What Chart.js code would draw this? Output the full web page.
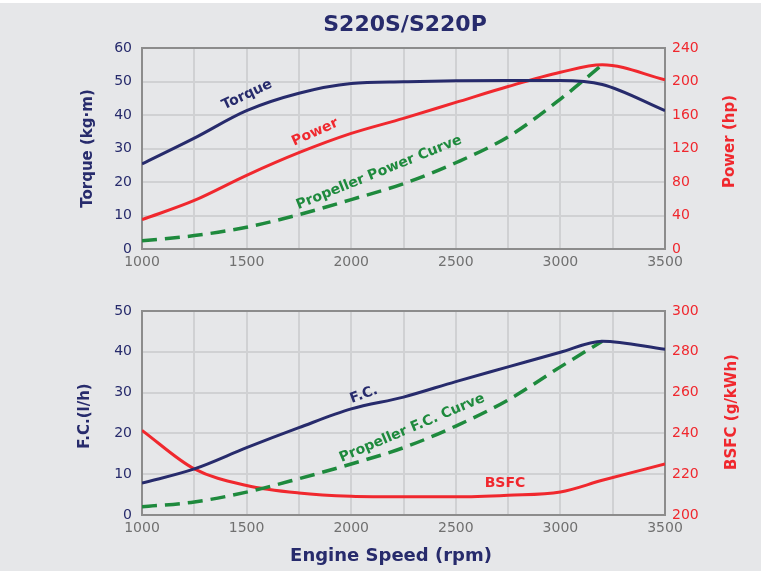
<!DOCTYPE html>
<html>
<head>
<meta charset="utf-8">
<script src="https://cdn.jsdelivr.net/npm/chart.js@4.4.1/dist/chart.umd.min.js"></script>
<style>
    html, body { margin: 0; padding: 0; background: #e6e7e9; }
    #wrap { position: relative; width: 761px; height: 571px; background: #e6e7e9; border-top: 3px solid #fff; box-sizing: border-box; }
    canvas { position: absolute; left: 0; }
    #top { top: -3px; }
    #bottom { top: 277px; }
</style>
</head>
<body>
<div id="wrap">
    <canvas id="top" width="761" height="280"></canvas>
    <canvas id="bottom" width="761" height="291"></canvas>
</div>
<script>
// engine speed (rpm)
const rpm = [1000, 1250, 1500, 1750, 2000, 2250, 2500, 2750, 3000, 3200, 3500];
const propRpm = [1000, 1250, 1500, 1750, 2000, 2250, 2500, 2750, 3000, 3200];

// top panel
const torque = [25.4, 33.1, 41.3, 46.5, 49.4, 49.9, 50.2, 50.3, 50.3, 49.1, 41.3];   // kg·m
const power = [35, 58, 88, 115, 138, 156, 175, 194, 211, 220, 202];                  // hp
const propPower = [9.7, 16, 26, 41, 59, 78, 103, 134, 179, 220];                     // hp

// bottom panel
const fuel = [7.8, 11.3, 16.5, 21.4, 26.0, 28.9, 32.7, 36.3, 39.9, 42.6, 40.6];      // l/h
const propFuel = [2.0, 3.2, 5.6, 8.9, 12.5, 16.5, 21.8, 28.2, 36.3, 42.6];          // l/h
const bsfc = [241.5, 222.6, 214.5, 210.8, 209.2, 208.9, 208.9, 209.7, 211.3, 217, 225]; // g/kWh

const xTicks = [1000, 1500, 2000, 2500, 3000, 3500];

const NAVY = '#272b6c';
const RED = '#f0282e';
const GREEN = '#1e8a3d';
const GRID = '#d0d1d3';
const TICK_FONT = { family: 'DejaVu Sans', size: 14 };

const pts = (xs, ys) => xs.map((x, i) => ({ x: x, y: ys[i] }));

// frame, axis titles and curve labels
const annotate = {
    id: 'annotate',
    beforeDatasetsDraw(chart) {
        const { ctx, chartArea: a } = chart;
        ctx.save();
        ctx.strokeStyle = '#8c8c8c';
        ctx.lineWidth = 2;
        ctx.strokeRect(a.left, a.top, a.width, a.height);
        ctx.restore();
    },
    afterDraw(chart, args, opts) {
        const { ctx, chartArea: a, scales } = chart;
        ctx.save();
        ctx.textAlign = 'center';
        ctx.textBaseline = 'middle';
        (opts.texts || []).forEach(t => {
            let x, y;
            if (t.rpm !== undefined) {
                x = scales.x.getPixelForValue(t.rpm);
                y = scales[t.axis || 'y'].getPixelForValue(t.v);
            } else {
                x = t.side === 'left' ? a.left + t.dx : t.side === 'right' ? a.right + t.dx : t.x;
                y = t.y !== undefined ? t.y : (a.top + a.bottom) / 2 + (t.dy || 0);
            }
            ctx.font = t.font;
            ctx.fillStyle = t.color;
            ctx.translate(x, y);
            ctx.rotate((t.angle || 0) * Math.PI / 180);
            ctx.fillText(t.text, 0, 0);
            ctx.setTransform(1, 0, 0, 1, 0, 0);
        });
        ctx.restore();
    }
};

function lineSet(data, color, axis, dashed) {
    return {
        data: data, borderColor: color, borderWidth: dashed ? 3.5 : 3,
        borderDash: dashed ? [15, 8] : [], yAxisID: axis,
        pointRadius: 0, cubicInterpolationMode: 'monotone', fill: false
    };
}

function xScale(height, pad) {
    return {
        type: 'linear', min: 1000, max: 3500,
        afterFit: s => { s.height = height; },
        grid: { color: GRID, lineWidth: 2, drawTicks: false },
        border: { display: false },
        ticks: {
            stepSize: 250, padding: pad, color: '#707070', font: TICK_FONT, maxRotation: 0,
            callback: v => xTicks.includes(v) ? String(v) : ''
        }
    };
}

function yScale(min, max, step, color, side) {
    return {
        type: 'linear', position: side, min: min, max: max,
        afterFit: s => { s.width = side === 'left' ? 142 : 96; },
        grid: { display: side === 'left', color: GRID, lineWidth: 2, drawTicks: false },
        border: { display: false },
        ticks: { stepSize: step, color: color, font: TICK_FONT, padding: side === 'left' ? 10 : 7 }
    };
}

function baseOptions(top, xHeight, xPad, scales, texts) {
    return {
        responsive: false, animation: false, devicePixelRatio: 1,
        layout: { padding: { top: top, left: 0, right: 0, bottom: 0 } },
        plugins: { legend: { display: false }, tooltip: { enabled: false }, annotate: { texts: texts } },
        scales: Object.assign({ x: xScale(xHeight, xPad) }, scales)
    };
}

const BOLD = s => `bold ${s}px "DejaVu Sans"`;
const LABEL = '600 14px "DejaVu Sans"';

new Chart(document.getElementById('top'), {
    type: 'line',
    plugins: [annotate],
    data: {
        datasets: [
            lineSet(pts(rpm, torque), NAVY, 'y'),
            lineSet(pts(rpm, power), RED, 'y1'),
            lineSet(pts(propRpm, propPower), GREEN, 'y1', true)
        ]
    },
    options: baseOptions(48, 31, 5, {
        y: yScale(0, 60, 10, NAVY, 'left'),
        y1: yScale(0, 240, 40, RED, 'right')
    }, [
        { text: 'S220S/S220P', x: 405, y: 25, font: BOLD(22), color: NAVY },
        { text: 'Torque (kg·m)', side: 'left', dx: -54, font: BOLD(15), color: NAVY, angle: -90 },
        { text: 'Power (hp)', side: 'right', dx: 65, dy: -7, font: BOLD(15), color: RED, angle: -90 },
        { text: 'Torque', rpm: 1502, v: 46, font: LABEL, color: NAVY, angle: -25 },
        { text: 'Power', rpm: 1827, v: 34.8, font: LABEL, color: RED, angle: -24 },
        { text: 'Propeller Power Curve', rpm: 2133, v: 22.8, font: LABEL, color: GREEN, angle: -22 }
    ])
});

new Chart(document.getElementById('bottom'), {
    type: 'line',
    plugins: [annotate],
    data: {
        datasets: [
            lineSet(pts(rpm, fuel), NAVY, 'y'),
            lineSet(pts(propRpm, propFuel), GREEN, 'y', true),
            lineSet(pts(rpm, bsfc), RED, 'y1')
        ]
    },
    options: baseOptions(31, 56, 5, {
        y: yScale(0, 50, 10, NAVY, 'left'),
        y1: yScale(200, 300, 20, RED, 'right')
    }, [
        { text: 'Engine Speed (rpm)', x: 391, y: 276, font: BOLD(18), color: NAVY },
        { text: 'F.C.(l/h)', side: 'left', dx: -57, dy: 3, font: BOLD(15), color: NAVY, angle: -90 },
        { text: 'BSFC (g/kWh)', side: 'right', dx: 67, dy: -1, font: BOLD(15), color: RED, angle: -90 },
        { text: 'F.C.', rpm: 2061, v: 29.5, font: LABEL, color: NAVY, angle: -20 },
        { text: 'Propeller F.C. Curve', rpm: 2291, v: 21.3, font: LABEL, color: GREEN, angle: -23 },
        { text: 'BSFC', rpm: 2735, v: 7.7, font: LABEL, color: RED, angle: 0 }
    ])
});
</script>
</body>
</html>
